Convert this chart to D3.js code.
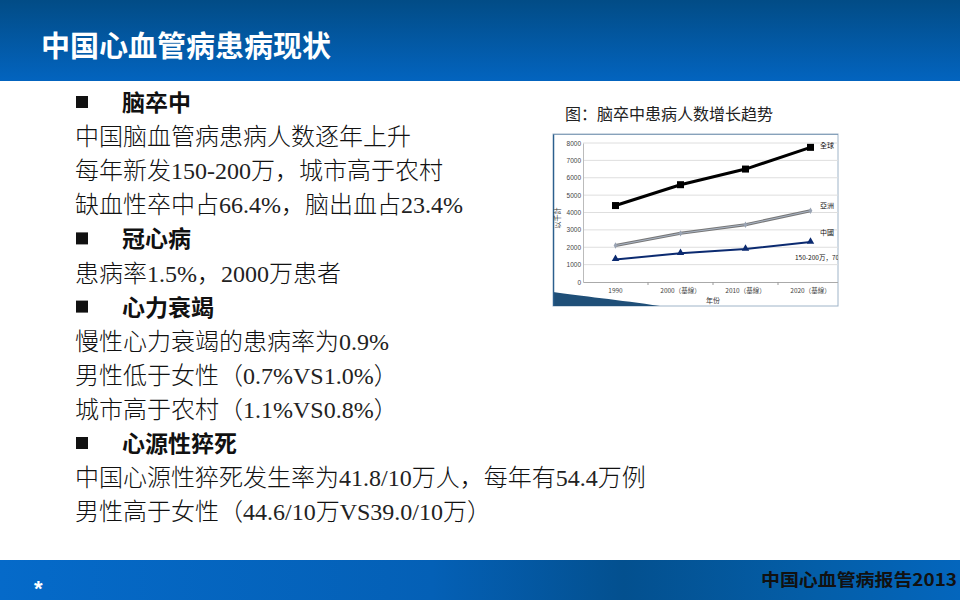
<!DOCTYPE html>
<html>
<head>
<meta charset="utf-8">
<title>中国心血管病患病现状</title>
<style>
  body { margin: 0; background: #fff; }
  svg { display: block; }
</style>
</head>
<body>
<svg width="960" height="600"></svg>
<script src="https://cdn.jsdelivr.net/npm/d3@7"></script>
<script>
// chart data
var years = ["1990", "2000（基線）", "2010（基線）", "2020（基線）"];
var globalVals = [4400, 5600, 6500, 7750];
var asiaVals = [2100, 2800, 3300, 4100];
var chinaVals = [1300, 1650, 1900, 2300];
var seriesNames = ["全球", "亞洲", "中國"];
var yTicks = [0, 1000, 2000, 3000, 4000, 5000, 6000, 7000, 8000];

// slide text
var bullets = [
  { head: true, text: "脑卒中" },
  { text: "中国脑血管病患病人数逐年上升" },
  { text: "每年新发150-200万，城市高于农村" },
  { text: "缺血性卒中占66.4%，脑出血占23.4%" },
  { head: true, text: "冠心病" },
  { text: "患病率1.5%，2000万患者" },
  { head: true, text: "心力衰竭" },
  { text: "慢性心力衰竭的患病率为0.9%" },
  { text: "男性低于女性（0.7%VS1.0%）" },
  { text: "城市高于农村（1.1%VS0.8%）" },
  { head: true, text: "心源性猝死" },
  { text: "中国心源性猝死发生率为41.8/10万人，每年有54.4万例" },
  { text: "男性高于女性（44.6/10万VS39.0/10万）" }
];

var CJK = "Noto Sans CJK SC, sans-serif";
var SERIF = "Liberation Serif, DejaVu Serif, serif";

var svg = d3.select("svg");
var defs = svg.append("defs");

var hg = defs.append("linearGradient").attr("id", "hdr")
    .attr("x1", 0).attr("y1", 0).attr("x2", 0).attr("y2", 1);
hg.append("stop").attr("offset", "0%").attr("stop-color", "#024c86");
hg.append("stop").attr("offset", "100%").attr("stop-color", "#0364bf");

var fg = defs.append("linearGradient").attr("id", "ftr")
    .attr("x1", 0).attr("y1", 0).attr("x2", 1).attr("y2", 0);
fg.append("stop").attr("offset", "0%").attr("stop-color", "#056ac9");
fg.append("stop").attr("offset", "45%").attr("stop-color", "#0460b6");
fg.append("stop").attr("offset", "65%").attr("stop-color", "#03508f");
fg.append("stop").attr("offset", "85%").attr("stop-color", "#045ea8");
fg.append("stop").attr("offset", "100%").attr("stop-color", "#0466bd");

// header
svg.append("rect").attr("x", 0).attr("y", 0).attr("width", 960).attr("height", 81)
    .attr("fill", "url(#hdr)");
svg.append("text").attr("font-family", CJK)
    .attr("x", 41).attr("y", 57)
    .attr("fill", "#fff").attr("font-size", 29).attr("font-weight", 700)
    .text("中国心血管病患病现状");

// footer
svg.append("rect").attr("x", 0).attr("y", 560).attr("width", 960).attr("height", 40)
    .attr("fill", "url(#ftr)");
svg.append("text").attr("x", 34).attr("y", 596)
    .attr("fill", "#fff").attr("font-size", 22).attr("font-weight", 700)
    .attr("font-family", "Liberation Sans, Arial, sans-serif")
    .text("*");
svg.append("text").attr("font-family", CJK)
    .attr("x", 957).attr("y", 586).attr("text-anchor", "end")
    .attr("fill", "#111").attr("font-size", 17).attr("font-weight", 700)
    .attr("textLength", 196).attr("lengthAdjust", "spacingAndGlyphs")
    .text("中国心血管病报告2013");

// text block
var lineY = d3.scaleLinear().domain([0, 1]).range([111, 145.1]);
var lines = svg.append("g").selectAll("g").data(bullets).join("g")
    .attr("transform", function(d, i) { return "translate(0," + lineY(i) + ")"; });

lines.filter(function(d) { return d.head; }).append("rect")
    .attr("x", 76).attr("y", -15).attr("width", 12).attr("height", 12).attr("fill", "#111");
lines.filter(function(d) { return d.head; }).append("text").attr("font-family", CJK)
    .attr("x", 122).attr("font-size", 23).attr("font-weight", 700).attr("fill", "#111")
    .text(function(d) { return d.text; });

var numRe = /^[0-9.%\/\-VS]+$/;
lines.filter(function(d) { return !d.head; }).each(function(d) {
  var t = d3.select(this).append("text").attr("x", 75).attr("fill", "#111");
  var parts = d.text.match(/[0-9.%\/\-VS]+|[^0-9.%\/\-VS]+/g);
  t.selectAll("tspan").data(parts).join("tspan")
    .attr("font-family", function(p) { return numRe.test(p) ? SERIF : CJK; })
    .attr("font-size", 24)
    .attr("font-weight", function(p) { return numRe.test(p) ? 400 : 300; })
    .attr("fill", function(p) { return numRe.test(p) ? "#222" : "#111"; })
    .text(function(p) { return p; });
});

// chart caption
svg.append("text").attr("font-family", CJK)
    .attr("x", 565).attr("y", 120).attr("font-size", 16).attr("fill", "#222")
    .text("图：脑卒中患病人数增长趋势");

// chart frame
var fx = 553, fy = 134, fw = 285, fh = 172;
defs.append("clipPath").attr("id", "frameClip").append("rect")
    .attr("x", fx).attr("y", fy).attr("width", fw).attr("height", fh);

svg.append("rect").attr("x", fx).attr("y", fy).attr("width", fw).attr("height", fh)
    .attr("fill", "#fff").attr("stroke", "#9fb4c8").attr("stroke-width", 1);

var chart = svg.append("g").attr("clip-path", "url(#frameClip)");

// swoosh at bottom-left
chart.append("path")
    .attr("d", "M" + fx + "," + (fy + fh - 14) + " C 580,296 620,300 660," + (fy + fh) + " L" + fx + "," + (fy + fh) + " Z")
    .attr("fill", "#1f4f78");
chart.append("path")
    .attr("d", "M" + fx + "," + fy + " L" + fx + "," + (fy + fh))
    .attr("stroke", "#2b5f8e").attr("stroke-width", 2.5);
chart.append("path")
    .attr("d", "M" + fx + "," + fy + " L" + (fx + fw) + "," + fy)
    .attr("stroke", "#6f8fae").attr("stroke-width", 1.5);

var x = d3.scaleBand().domain(years).range([583, 843]);
var y = d3.scaleLinear().domain([0, 8000]).range([282, 143]);

// grid
chart.append("g").selectAll("line").data(yTicks.slice(1)).join("line")
    .attr("x1", 583).attr("x2", 843)
    .attr("y1", function(d) { return y(d); }).attr("y2", function(d) { return y(d); })
    .attr("stroke", "#dedede").attr("stroke-width", 1);

var yAxis = chart.append("g").attr("transform", "translate(583,0)")
    .call(d3.axisLeft(y).tickValues(yTicks).tickFormat(d3.format("d")).tickSize(0).tickPadding(2));
yAxis.select(".domain").attr("stroke", "#bbb");
yAxis.selectAll("text").attr("font-size", 6.5).attr("fill", "#444")
    .attr("font-family", "Liberation Sans, Arial, sans-serif");

var xAxis = chart.append("g").attr("transform", "translate(0,282)")
    .call(d3.axisBottom(x).tickSize(0).tickPadding(6));
xAxis.select(".domain").attr("stroke", "#aaa");
xAxis.selectAll("text").attr("font-size", 6.5).attr("fill", "#444")
    .attr("font-family", "Noto Sans CJK TC, sans-serif");
chart.append("g").selectAll("line").data(years).join("line")
    .attr("x1", function(d) { return x(d) + x.bandwidth(); })
    .attr("x2", function(d) { return x(d) + x.bandwidth(); })
    .attr("y1", 282).attr("y2", 285).attr("stroke", "#999");

chart.append("text").attr("font-family", "Noto Sans CJK TC, sans-serif")
    .attr("transform", "translate(560,218) rotate(-90)")
    .attr("text-anchor", "middle").attr("font-size", 7).attr("fill", "#333")
    .text("以千計");
chart.append("text").attr("font-family", CJK)
    .attr("x", 713).attr("y", 303).attr("text-anchor", "middle")
    .attr("font-size", 7).attr("fill", "#333")
    .text("年份");

var cx = function(d, i) { return x(years[i]) + x.bandwidth() / 2; };
var line = d3.line().x(cx).y(function(d) { return y(d); });

// global
chart.append("path").datum(globalVals).attr("d", line)
    .attr("fill", "none").attr("stroke", "#000").attr("stroke-width", 3);
chart.append("g").selectAll("rect").data(globalVals).join("rect")
    .attr("x", function(d, i) { return cx(d, i) - 3.5; })
    .attr("y", function(d) { return y(d) - 3.5; })
    .attr("width", 7).attr("height", 7).attr("fill", "#000");

// asia
chart.append("path").datum(asiaVals).attr("d", line)
    .attr("fill", "none").attr("stroke", "#777").attr("stroke-width", 3);
chart.append("path").datum(asiaVals).attr("d", line)
    .attr("fill", "none").attr("stroke", "#a9b4c4").attr("stroke-width", 1);
chart.append("g").selectAll("path").data(asiaVals).join("path")
    .attr("d", d3.symbol(d3.symbolDiamond, 12))
    .attr("transform", function(d, i) { return "translate(" + cx(d, i) + "," + y(d) + ")"; })
    .attr("fill", "#9aa4b4");

// china
chart.append("path").datum(chinaVals).attr("d", line)
    .attr("fill", "none").attr("stroke", "#0b2a70").attr("stroke-width", 2);
chart.append("g").selectAll("path").data(chinaVals).join("path")
    .attr("d", d3.symbol(d3.symbolTriangle, 24))
    .attr("transform", function(d, i) { return "translate(" + cx(d, i) + "," + (y(d) - 0.5) + ")"; })
    .attr("fill", "#0b2a70");

// series labels
var labelVals = [globalVals[3], asiaVals[3] + 200, chinaVals[3] + 450];
chart.append("g").selectAll("text").data(seriesNames).join("text")
    .attr("font-family", "Noto Sans CJK TC, sans-serif")
    .attr("x", 820)
    .attr("y", function(d, i) { return y(labelVals[i]) + 1; })
    .attr("font-size", 7).attr("fill", "#111")
    .text(function(d) { return d; });
chart.append("text")
    .attr("font-family", CJK)
    .attr("x", 795).attr("y", y(1250)).attr("font-size", 6.5).attr("fill", "#111")
    .text("150-200万，700万");
</script>
</body>
</html>
